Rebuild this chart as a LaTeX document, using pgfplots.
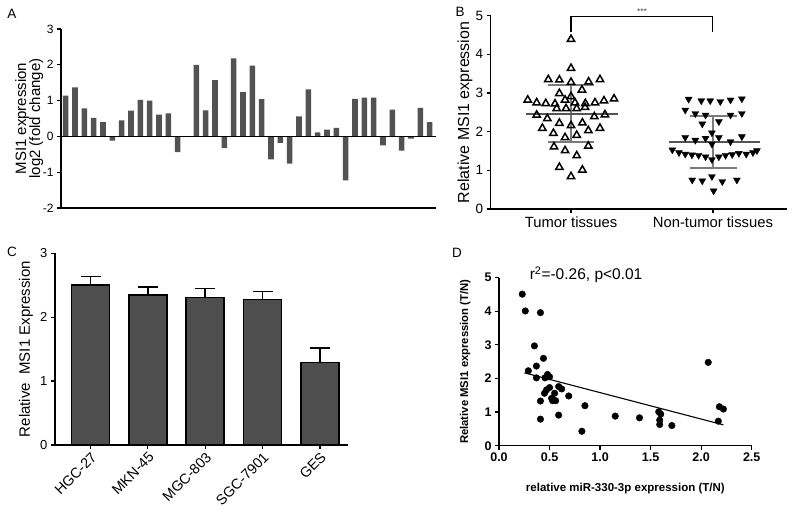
\documentclass[border=0pt]{standalone}
\usepackage{fontspec}
\setmainfont{Liberation Sans}
\usepackage{pgfplots}
\pgfplotsset{compat=1.18}
\definecolor{bargray}{HTML}{525252}
\definecolor{meangray}{HTML}{555555}
\definecolor{sdgray}{HTML}{7A7A7A}
\pgfplotsset{
  myaxis/.style={
    scale only axis,
    axis lines*=left,
    axis line style={line width=1.2pt, black},
    tick style={line width=1.2pt, black},
    tick align=outside,
    major tick length=4pt,
    /pgf/number format/assume math mode=true,
    clip=false,
  }
}
\begin{document}
\begin{tikzpicture}
\useasboundingbox (0pt,0pt) rectangle (792pt,513pt);
% panel letters
\node[font=\fontsize{13.5}{13.5}\selectfont] at (12pt,499pt) {A};
\node[font=\fontsize{13.5}{13.5}\selectfont] at (460pt,501pt) {B};
\node[font=\fontsize{13.5}{13.5}\selectfont] at (12pt,261pt) {C};
\node[font=\fontsize{13.5}{13.5}\selectfont] at (457pt,260pt) {D};

% ---------------- Panel A
\begin{axis}[myaxis,
  at={(61pt,305pt)}, anchor=south west,
  width=375pt, height=179pt,
  xmin=0.5, xmax=40.68, ymin=-2, ymax=3,
  xtick=\empty, ytick={-2,-1,0,1,2,3},
  ticklabel style={font=\fontsize{12}{12}\selectfont},
  every axis y label/.style={at={(axis description cs:-0.085,0.5)}, rotate=90, anchor=center, align=center, font=\fontsize{15}{14}\selectfont},
  ylabel={MSI1 expression\\log2 (fold change)},
]
\addplot[ybar, bar width=5.6pt, fill=bargray, draw=none] coordinates {
(1,1.14) (2,1.37) (3,0.78) (4,0.52) (5,0.40) (6,-0.12) (7,0.45) (8,0.72) (9,1.02) (10,1.00)
(11,0.61) (12,0.64) (13,-0.44) (14,0) (15,2.00) (16,0.73) (17,1.57) (18,-0.33) (19,2.18) (20,1.24)
(21,1.98) (22,1.04) (23,-0.64) (24,-0.18) (25,-0.76) (26,0.56) (27,1.31) (28,0.11) (29,0.19) (30,0.24)
(31,-1.23) (32,1.05) (33,1.08) (34,1.08) (35,-0.25) (36,0.75) (37,-0.40) (38,-0.06) (39,0.80) (40,0.40)
};
\addplot[black, line width=1.1pt] coordinates {(0.5,0) (40.68,0)};
\end{axis}

% ---------------- Panel B
\begin{axis}[myaxis,
  at={(490.7pt,304pt)}, anchor=south west,
  width=296pt, height=193.3pt,
  xmin=0.434, xmax=2.52, ymin=0, ymax=5,
  xtick={1,2}, xticklabels={Tumor tissues, Non-tumor tissues},
  ytick={0,1,2,3,4,5},
  yticklabel style={font=\fontsize{13.5}{13.5}\selectfont},
  xticklabel style={font=\fontsize{14.8}{14.8}\selectfont},
  every axis y label/.style={at={(axis description cs:-0.087,0.5)}, rotate=90, anchor=center, font=\fontsize{16}{16}\selectfont},
  ylabel={Relative MSI1 expression},
]
\addplot[only marks, mark=triangle, mark size=4.2pt, mark options={line width=1.5pt, black}] coordinates {
(1.0,4.39) (1.0,3.64) (0.84,3.35) (0.918,3.34) (1.0,3.28) (1.124,3.29) (1.204,3.35)
(0.918,2.99) (1.077,3.08) (1.0,2.91)
(0.695,2.82) (0.758,2.75) (0.822,2.73) (0.887,2.72) (0.958,2.82) (1.028,2.75) (1.101,2.73) (1.169,2.75) (1.232,2.80) (1.303,2.85)
(0.899,2.60) (0.965,2.60) (1.04,2.60) (1.099,2.63)
(0.758,2.43) (0.833,2.34) (1.164,2.39) (1.239,2.44)
(0.918,2.22) (1.0,2.16) (1.08,2.23)
(0.798,2.09) (1.204,2.09) (1.122,2.03)
(0.876,1.96) (1.04,1.91) (0.958,1.85)
(0.880,1.61) (1.122,1.63) (0.958,1.51) (1.04,1.38)
(0.918,1.08) (1.08,1.01) (1.0,0.84)
};
\addplot[only marks, mark=triangle*, mark size=4pt, mark options={rotate=180, black, fill=black}] coordinates {
(1.829,2.84) (1.918,2.80) (1.981,2.80) (2.052,2.78) (2.124,2.82) (2.204,2.85)
(1.805,2.56) (1.876,2.47) (1.948,2.43) (2.124,2.43) (2.204,2.47)
(1.925,2.20) (2.042,2.26) (1.993,1.97)
(1.805,1.85) (1.876,1.78) (1.948,1.83) (2.042,1.85) (2.124,1.74) (2.204,1.87)
(1.993,1.68)
(1.714,1.53) (1.761,1.46) (1.805,1.42) (1.852,1.40) (1.899,1.39) (1.948,1.35) (2.042,1.35) (2.089,1.39) (2.136,1.41) (2.183,1.44) (2.235,1.42) (2.282,1.46) (2.31,1.51)
(1.993,1.28)
(1.854,0.75) (1.925,0.73) (1.993,0.84) (2.066,0.71) (2.169,0.75)
(2.005,0.47)
};
% SD bars
\addplot[sdgray, line width=2pt] coordinates {(1,1.72) (1,3.20)};
\addplot[sdgray, line width=2pt] coordinates {(0.84,3.20) (1.16,3.20)};
\addplot[sdgray, line width=2pt] coordinates {(0.84,1.72) (1.16,1.72)};
\addplot[sdgray, line width=2pt] coordinates {(2,1.05) (2,2.40)};
\addplot[sdgray, line width=2pt] coordinates {(1.84,2.40) (2.17,2.40)};
\addplot[sdgray, line width=2pt] coordinates {(1.84,1.05) (2.17,1.05)};
% means
\addplot[meangray, line width=1.8pt] coordinates {(0.68,2.46) (1.33,2.46)};
\addplot[meangray, line width=1.8pt] coordinates {(1.69,1.73) (2.33,1.73)};
% bracket
\addplot[black, line width=1.1pt] coordinates {(1,4.57) (1,4.97) (2,4.97) (2,4.57)};
\node[font=\fontsize{8.5}{8.5}\selectfont, text=black!70] at (axis cs:1.5,5.11) {***};
\end{axis}

% ---------------- Panel C
\begin{axis}[myaxis,
  at={(55pt,68pt)}, anchor=south west,
  width=293pt, height=191.7pt,
  xmin=0.38, xmax=5.49, ymin=0, ymax=3,
  xtick={1,2,3,4,5}, xticklabels={HGC-27, MKN-45, MGC-803, SGC-7901, GES},
  ytick={0,1,2,3},
  yticklabel style={font=\fontsize{13}{13}\selectfont},
  xticklabel style={font=\fontsize{14.3}{14.3}\selectfont, rotate=45, anchor=north east, inner sep=1.5pt},
  every axis y label/.style={at={(axis description cs:-0.099,0.5)}, rotate=90, anchor=center, font=\fontsize{15}{15}\selectfont},
  ylabel={Relative\ \ MSI1 Expression},
]
\addplot[ybar, bar width=38pt, fill=bargray!95!black, draw=black, line width=1.6pt,
  error bars/.cd, y dir=plus, y explicit,
  error bar style={line width=1.6pt, black},
  error mark options={line width=1.6pt, mark size=10pt, black, rotate=90}]
  coordinates {
  (1,2.50) +- (0,0.14)
  (2,2.35) +- (0,0.12)
  (3,2.31) +- (0,0.14)
  (4,2.28) +- (0,0.12)
  (5,1.29) +- (0,0.23)
};
\end{axis}

% ---------------- Panel D
\begin{axis}[myaxis,
  at={(499pt,67.3pt)}, anchor=south west,
  width=252.7pt, height=168pt,
  xmin=0, xmax=2.5, ymin=0, ymax=5,
  xtick={0,0.5,1,1.5,2,2.5}, ytick={0,1,2,3,4,5},
  xticklabel style={/pgf/number format/.cd, fixed, fixed zerofill, precision=1},
  ticklabel style={font=\fontsize{12.5}{12.5}\selectfont\bfseries},
  every axis y label/.style={at={(axis description cs:-0.134,0.5)}, rotate=90, anchor=center, font=\fontsize{11.3}{11.3}\selectfont\bfseries},
  every axis x label/.style={at={(axis description cs:0.5,-0.255)}, anchor=center, font=\fontsize{11.5}{11.5}\selectfont\bfseries},
  ylabel={Relative MSI1 expression (T/N)},
  xlabel={relative miR-330-3p expression (T/N)},
]
\addplot[only marks, mark=*, mark size=3.3pt, black] coordinates {
(0.23,4.51) (0.26,4.01) (0.41,3.96) (0.35,2.97) (0.44,2.60) (0.37,2.37) (0.29,2.23)
(0.37,2.02) (0.48,2.12) (0.50,2.05) (0.455,2.02) (0.59,1.76) (0.62,1.69) (0.50,1.73)
(0.47,1.66) (0.55,1.56) (0.45,1.56) (0.52,1.41) (0.56,1.34) (0.53,1.34) (0.41,1.33)
(0.69,1.48) (0.41,0.79) (0.59,0.91) (0.85,1.19) (0.82,0.43) (1.15,0.88) (1.39,0.83)
(1.58,1.01) (1.60,0.94) (1.59,0.76) (1.59,0.63) (1.71,0.60) (2.07,2.48) (2.18,1.16)
(2.22,1.09) (2.17,0.73)
};
\addplot[black, line width=1.1pt] coordinates {(0.25,2.17) (2.22,0.62)};
\node[anchor=west, font=\fontsize{15.5}{15.5}\selectfont] at (axis cs:0.27,5.08) {r\textsuperscript{2}=-0.26, p<0.01};
\end{axis}
\end{tikzpicture}
\end{document}
